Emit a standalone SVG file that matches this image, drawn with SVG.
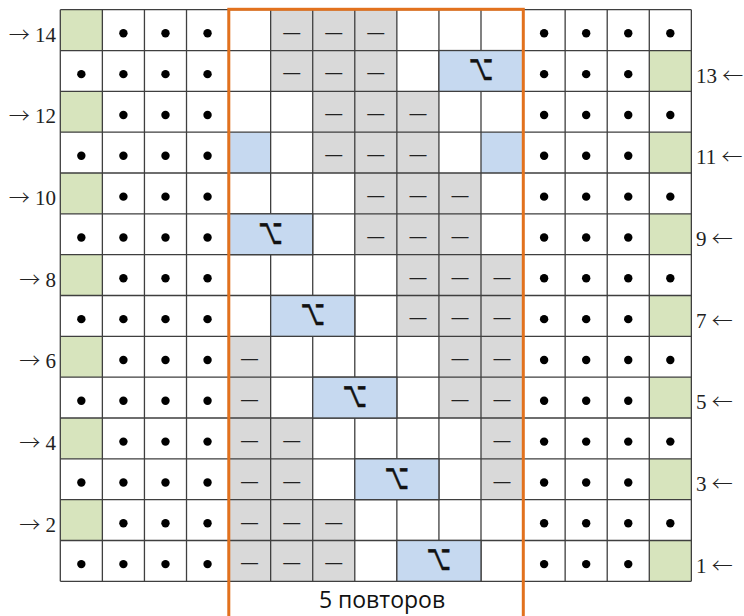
<svg xmlns="http://www.w3.org/2000/svg" width="744" height="616" viewBox="0 0 744 616">
<style>
.grn{fill:#D7E4BD}
.gry{fill:#D9D9D9}
.blu{fill:#C6D9F0}
.cab{fill:#C6D9F0;stroke:#3F3F3F;stroke-width:1.3}
.grid{stroke:#3F3F3F;stroke-width:1.3;fill:none}
.dash{font-family:"Liberation Sans",Arial,sans-serif;font-size:17px;fill:#222;text-anchor:middle}
.sym{font-family:"DejaVu Sans",sans-serif;font-size:21px;fill:#111;text-anchor:middle;stroke:#111;stroke-width:0.4}
.lbl{font-family:"Liberation Serif","Times New Roman",serif;font-size:21px;fill:#222}
.arr{font-family:"Noto Sans CJK JP","Noto Sans CJK SC",sans-serif;font-size:21px;font-weight:300}
.cap{font-family:"Open Sans","Noto Sans",sans-serif;font-size:23px;fill:#111;text-anchor:middle}
</style>
<defs>
<circle id="dot" r="4.2" fill="#000"/>
</defs>
<rect width="744" height="616" fill="#fff"/>
<g id="fills">
<rect class="grn" x="60.3" y="9.7" width="42.07" height="40.83"/>
<rect class="grn" x="60.3" y="91.36" width="42.07" height="40.83"/>
<rect class="grn" x="60.3" y="173.02" width="42.07" height="40.83"/>
<rect class="grn" x="60.3" y="254.68" width="42.07" height="40.83"/>
<rect class="grn" x="60.3" y="336.34" width="42.07" height="40.83"/>
<rect class="grn" x="60.3" y="418" width="42.07" height="40.83"/>
<rect class="grn" x="60.3" y="499.66" width="42.07" height="40.83"/>
<rect class="grn" x="649.28" y="50.53" width="42.07" height="40.83"/>
<rect class="grn" x="649.28" y="132.19" width="42.07" height="40.83"/>
<rect class="grn" x="649.28" y="213.85" width="42.07" height="40.83"/>
<rect class="grn" x="649.28" y="295.51" width="42.07" height="40.83"/>
<rect class="grn" x="649.28" y="377.17" width="42.07" height="40.83"/>
<rect class="grn" x="649.28" y="458.83" width="42.07" height="40.83"/>
<rect class="grn" x="649.28" y="540.49" width="42.07" height="40.83"/>
<rect class="gry" x="270.65" y="9.7" width="126.21" height="81.66"/>
<rect class="gry" x="312.72" y="91.36" width="126.21" height="81.66"/>
<rect class="gry" x="354.79" y="173.02" width="126.21" height="81.66"/>
<rect class="gry" x="396.86" y="254.68" width="126.21" height="81.66"/>
<rect class="gry" x="228.58" y="336.34" width="42.07" height="163.32"/>
<rect class="gry" x="438.93" y="336.34" width="84.14" height="81.66"/>
<rect class="gry" x="270.65" y="418" width="42.07" height="81.66"/>
<rect class="gry" x="481" y="418" width="42.07" height="81.66"/>
<rect class="gry" x="228.58" y="499.66" width="126.21" height="81.66"/>
<rect class="blu" x="228.58" y="132.19" width="42.07" height="40.83"/>
<rect class="blu" x="481" y="132.19" width="42.07" height="40.83"/>
</g>
<g id="grid" class="grid">
<path d="M60.3 9.7V581.32M102.37 9.7V581.32M144.44 9.7V581.32M186.51 9.7V581.32M228.58 9.7V581.32M270.65 9.7V581.32M312.72 9.7V581.32M354.79 9.7V581.32M396.86 9.7V581.32M438.93 9.7V581.32M481 9.7V581.32M523.07 9.7V581.32M565.14 9.7V581.32M607.21 9.7V581.32M649.28 9.7V581.32M691.35 9.7V581.32"/>
<path d="M60.3 9.7H691.35M60.3 50.53H691.35M60.3 91.36H691.35M60.3 132.19H691.35M60.3 173.02H691.35M60.3 213.85H691.35M60.3 254.68H691.35M60.3 295.51H691.35M60.3 336.34H691.35M60.3 377.17H691.35M60.3 418H691.35M60.3 458.83H691.35M60.3 499.66H691.35M60.3 540.49H691.35M60.3 581.32H691.35"/>
</g>
<g id="cables">
<rect class="cab" x="438.93" y="50.53" width="84.14" height="40.83"/>
<rect class="cab" x="228.58" y="213.85" width="84.14" height="40.83"/>
<rect class="cab" x="270.65" y="295.51" width="84.14" height="40.83"/>
<rect class="cab" x="312.72" y="377.17" width="84.14" height="40.83"/>
<rect class="cab" x="354.79" y="458.83" width="84.14" height="40.83"/>
<rect class="cab" x="396.86" y="540.49" width="84.14" height="40.83"/>
<text class="sym" transform="translate(481 80.3) scale(1 1.7)">⌥</text>
<text class="sym" transform="translate(270.65 243.6) scale(1 1.7)">⌥</text>
<text class="sym" transform="translate(312.72 325.3) scale(1 1.7)">⌥</text>
<text class="sym" transform="translate(354.79 407) scale(1 1.7)">⌥</text>
<text class="sym" transform="translate(396.86 488.6) scale(1 1.7)">⌥</text>
<text class="sym" transform="translate(438.93 570.3) scale(1 1.7)">⌥</text>
</g>
<rect id="repeat" x="228.8" y="9.3" width="294.5" height="640" fill="none" stroke="#E2711D" stroke-width="3"/>
<g id="purls" class="dash">
<text x="291.69" y="37.6">—</text><text x="333.76" y="37.6">—</text><text x="375.83" y="37.6">—</text>
<text x="291.69" y="78.45">—</text><text x="333.76" y="78.45">—</text><text x="375.83" y="78.45">—</text>
<text x="333.76" y="119.3">—</text><text x="375.83" y="119.3">—</text><text x="417.9" y="119.3">—</text>
<text x="333.76" y="160.1">—</text><text x="375.83" y="160.1">—</text><text x="417.9" y="160.1">—</text>
<text x="375.83" y="200.9">—</text><text x="417.9" y="200.9">—</text><text x="459.97" y="200.9">—</text>
<text x="375.83" y="241.8">—</text><text x="417.9" y="241.8">—</text><text x="459.97" y="241.8">—</text>
<text x="417.9" y="282.6">—</text><text x="459.97" y="282.6">—</text><text x="502.04" y="282.6">—</text>
<text x="417.9" y="323.4">—</text><text x="459.97" y="323.4">—</text><text x="502.04" y="323.4">—</text>
<text x="249.62" y="364.3">—</text><text x="459.97" y="364.3">—</text><text x="502.04" y="364.3">—</text>
<text x="249.62" y="405.1">—</text><text x="459.97" y="405.1">—</text><text x="502.04" y="405.1">—</text>
<text x="249.62" y="445.9">—</text><text x="291.69" y="445.9">—</text><text x="502.04" y="445.9">—</text>
<text x="249.62" y="486.8">—</text><text x="291.69" y="486.8">—</text><text x="502.04" y="486.8">—</text>
<text x="249.62" y="527.6">—</text><text x="291.69" y="527.6">—</text><text x="333.76" y="527.6">—</text>
<text x="249.62" y="568.4">—</text><text x="291.69" y="568.4">—</text><text x="333.76" y="568.4">—</text>
</g>
<g id="dots">
<use href="#dot" x="123.41" y="33.32"/><use href="#dot" x="165.48" y="33.32"/><use href="#dot" x="207.55" y="33.32"/><use href="#dot" x="544.11" y="33.32"/><use href="#dot" x="586.18" y="33.32"/><use href="#dot" x="628.25" y="33.32"/><use href="#dot" x="670.32" y="33.32"/>
<use href="#dot" x="81.34" y="74.15"/><use href="#dot" x="123.41" y="74.15"/><use href="#dot" x="165.48" y="74.15"/><use href="#dot" x="207.55" y="74.15"/><use href="#dot" x="544.11" y="74.15"/><use href="#dot" x="586.18" y="74.15"/><use href="#dot" x="628.25" y="74.15"/>
<use href="#dot" x="123.41" y="114.98"/><use href="#dot" x="165.48" y="114.98"/><use href="#dot" x="207.55" y="114.98"/><use href="#dot" x="544.11" y="114.98"/><use href="#dot" x="586.18" y="114.98"/><use href="#dot" x="628.25" y="114.98"/><use href="#dot" x="670.32" y="114.98"/>
<use href="#dot" x="81.34" y="155.81"/><use href="#dot" x="123.41" y="155.81"/><use href="#dot" x="165.48" y="155.81"/><use href="#dot" x="207.55" y="155.81"/><use href="#dot" x="544.11" y="155.81"/><use href="#dot" x="586.18" y="155.81"/><use href="#dot" x="628.25" y="155.81"/>
<use href="#dot" x="123.41" y="196.64"/><use href="#dot" x="165.48" y="196.64"/><use href="#dot" x="207.55" y="196.64"/><use href="#dot" x="544.11" y="196.64"/><use href="#dot" x="586.18" y="196.64"/><use href="#dot" x="628.25" y="196.64"/><use href="#dot" x="670.32" y="196.64"/>
<use href="#dot" x="81.34" y="237.47"/><use href="#dot" x="123.41" y="237.47"/><use href="#dot" x="165.48" y="237.47"/><use href="#dot" x="207.55" y="237.47"/><use href="#dot" x="544.11" y="237.47"/><use href="#dot" x="586.18" y="237.47"/><use href="#dot" x="628.25" y="237.47"/>
<use href="#dot" x="123.41" y="278.3"/><use href="#dot" x="165.48" y="278.3"/><use href="#dot" x="207.55" y="278.3"/><use href="#dot" x="544.11" y="278.3"/><use href="#dot" x="586.18" y="278.3"/><use href="#dot" x="628.25" y="278.3"/><use href="#dot" x="670.32" y="278.3"/>
<use href="#dot" x="81.34" y="319.13"/><use href="#dot" x="123.41" y="319.13"/><use href="#dot" x="165.48" y="319.13"/><use href="#dot" x="207.55" y="319.13"/><use href="#dot" x="544.11" y="319.13"/><use href="#dot" x="586.18" y="319.13"/><use href="#dot" x="628.25" y="319.13"/>
<use href="#dot" x="123.41" y="359.96"/><use href="#dot" x="165.48" y="359.96"/><use href="#dot" x="207.55" y="359.96"/><use href="#dot" x="544.11" y="359.96"/><use href="#dot" x="586.18" y="359.96"/><use href="#dot" x="628.25" y="359.96"/><use href="#dot" x="670.32" y="359.96"/>
<use href="#dot" x="81.34" y="400.79"/><use href="#dot" x="123.41" y="400.79"/><use href="#dot" x="165.48" y="400.79"/><use href="#dot" x="207.55" y="400.79"/><use href="#dot" x="544.11" y="400.79"/><use href="#dot" x="586.18" y="400.79"/><use href="#dot" x="628.25" y="400.79"/>
<use href="#dot" x="123.41" y="441.62"/><use href="#dot" x="165.48" y="441.62"/><use href="#dot" x="207.55" y="441.62"/><use href="#dot" x="544.11" y="441.62"/><use href="#dot" x="586.18" y="441.62"/><use href="#dot" x="628.25" y="441.62"/><use href="#dot" x="670.32" y="441.62"/>
<use href="#dot" x="81.34" y="482.45"/><use href="#dot" x="123.41" y="482.45"/><use href="#dot" x="165.48" y="482.45"/><use href="#dot" x="207.55" y="482.45"/><use href="#dot" x="544.11" y="482.45"/><use href="#dot" x="586.18" y="482.45"/><use href="#dot" x="628.25" y="482.45"/>
<use href="#dot" x="123.41" y="523.28"/><use href="#dot" x="165.48" y="523.28"/><use href="#dot" x="207.55" y="523.28"/><use href="#dot" x="544.11" y="523.28"/><use href="#dot" x="586.18" y="523.28"/><use href="#dot" x="628.25" y="523.28"/><use href="#dot" x="670.32" y="523.28"/>
<use href="#dot" x="81.34" y="564.11"/><use href="#dot" x="123.41" y="564.11"/><use href="#dot" x="165.48" y="564.11"/><use href="#dot" x="207.55" y="564.11"/><use href="#dot" x="544.11" y="564.11"/><use href="#dot" x="586.18" y="564.11"/><use href="#dot" x="628.25" y="564.11"/>
</g>
<g id="labels-left" class="lbl" text-anchor="end">
<text x="56" y="41.7"><tspan class="arr">→</tspan> 14</text>
<text x="56" y="123.4"><tspan class="arr">→</tspan> 12</text>
<text x="56" y="205"><tspan class="arr">→</tspan> 10</text>
<text x="56" y="286.7"><tspan class="arr">→</tspan> 8</text>
<text x="56" y="368.4"><tspan class="arr">→</tspan> 6</text>
<text x="56" y="450"><tspan class="arr">→</tspan> 4</text>
<text x="56" y="531.7"><tspan class="arr">→</tspan> 2</text>
</g>
<g id="labels-right" class="lbl">
<text x="696" y="82.6">13 <tspan class="arr">←</tspan></text>
<text x="696" y="164.2">11 <tspan class="arr">←</tspan></text>
<text x="696" y="245.9">9 <tspan class="arr">←</tspan></text>
<text x="696" y="327.5">7 <tspan class="arr">←</tspan></text>
<text x="696" y="409.2">5 <tspan class="arr">←</tspan></text>
<text x="696" y="490.9">3 <tspan class="arr">←</tspan></text>
<text x="696" y="572.5">1 <tspan class="arr">←</tspan></text>
</g>
<text class="cap" x="382" y="608">5 повторов</text>
</svg>
